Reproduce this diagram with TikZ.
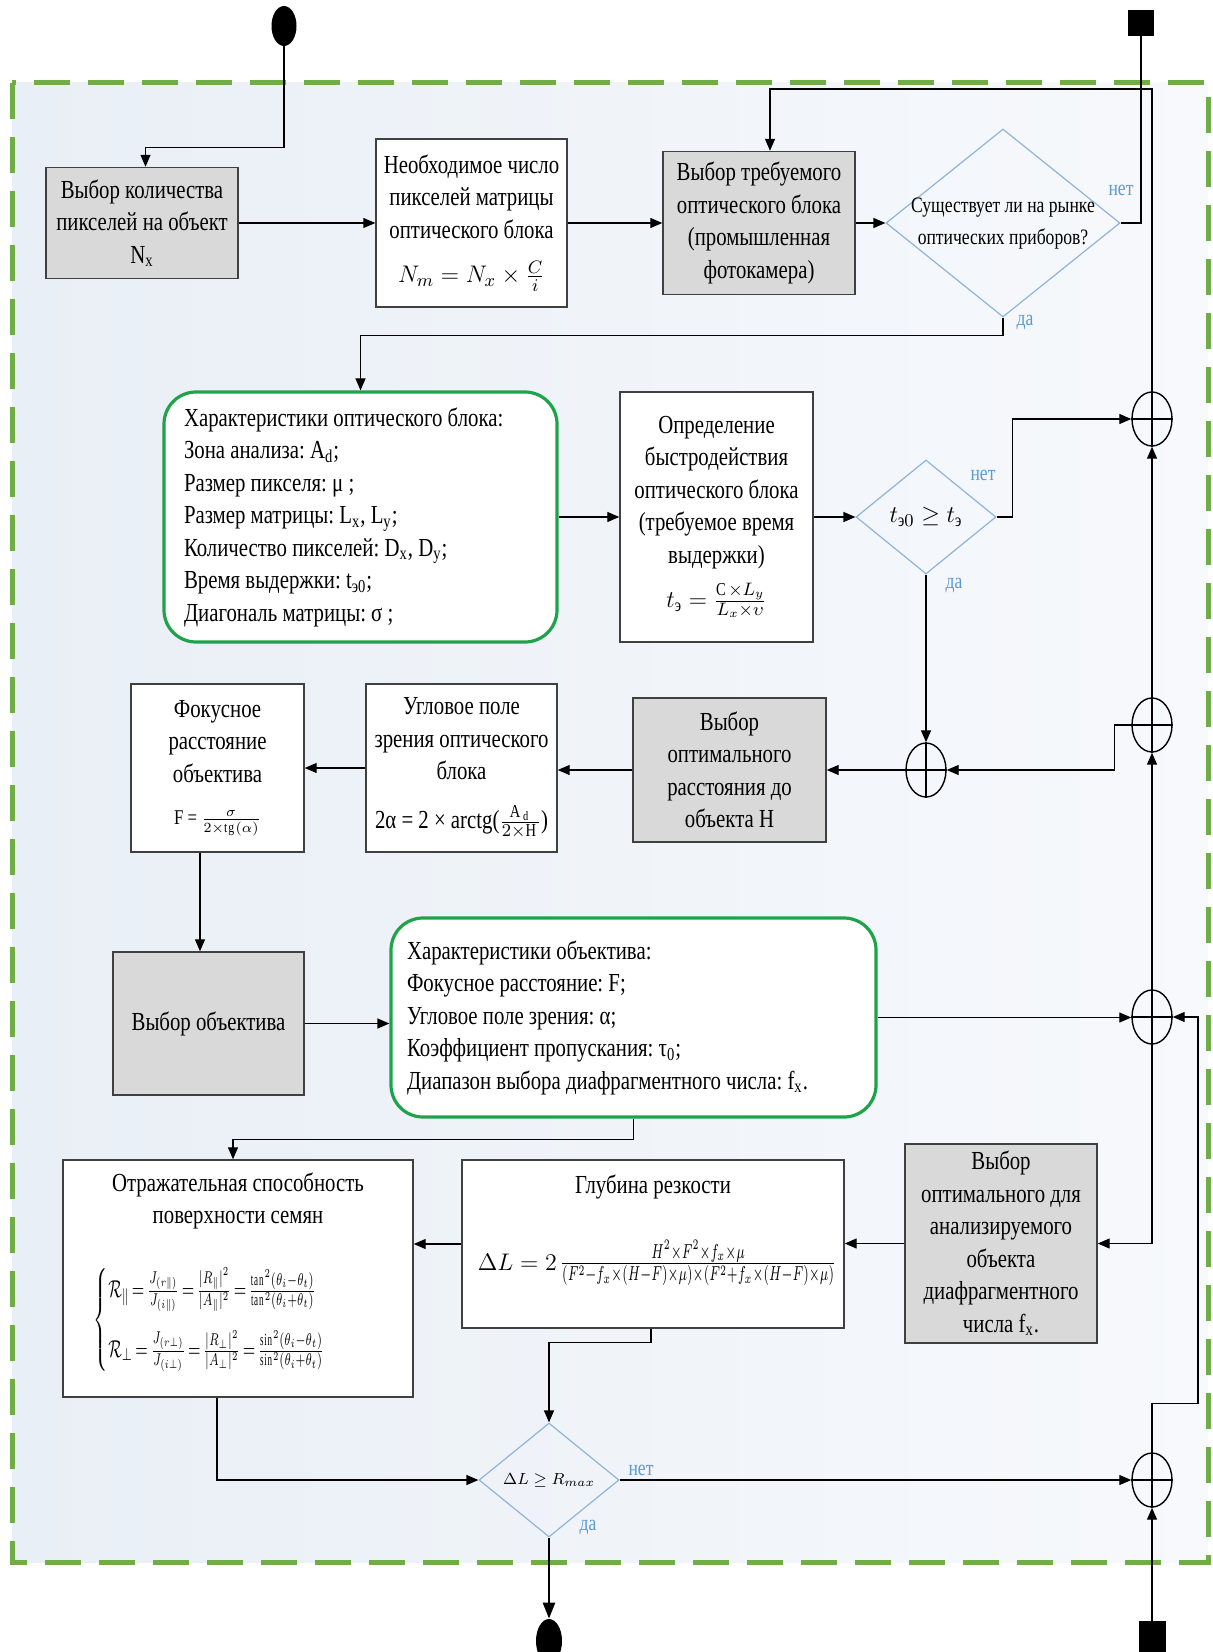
\documentclass[tikz,border=0pt]{standalone}
\usepackage{fontspec}
\setmainfont{Liberation Serif}[FakeStretch=0.8]
\usepackage{amsmath}
\usepackage{graphicx}
\usetikzlibrary{shapes.geometric,arrows.meta,calc}
\definecolor{frameG}{HTML}{70AD47}
\definecolor{grnline}{HTML}{1FA34A}
\definecolor{diaB}{HTML}{8FB4D9}
\definecolor{lblB}{HTML}{5B9BD5}
\definecolor{grayfill}{HTML}{D9D9D9}
\definecolor{boxline}{HTML}{404040}
\definecolor{bgA}{HTML}{E9EFF6}
\definecolor{bgB}{HTML}{F7F9FC}
\newcommand\msz{\fontsize{13}{16.25}\selectfont}
\newcommand\ssz{\fontsize{11}{16}\selectfont}
\newcommand\lsz{\fontsize{10.5}{12}\selectfont}
\frenchspacing
\begin{document}
\frenchspacing
\begin{tikzpicture}[x=0.5pt,y=-0.5pt,
  box/.style={draw=boxline, line width=0.7pt, fill=white, inner sep=1pt, align=center, font=\msz},
  gbox/.style={box, fill=grayfill},
  grn/.style={draw=grnline, line width=1.6pt, rounded corners=16pt, fill=white, align=flush left, inner ysep=0pt},
  dia/.style={diamond, draw=diaB, line width=0.6pt, inner sep=0pt},
  junc/.style={ellipse, draw, line width=0.7pt, minimum width=20pt, minimum height=27pt, inner sep=0pt},
  arr/.style={-{Triangle[length=6pt,width=5pt]}, line width=0.6pt},
  ln/.style={line width=0.6pt},
  yn/.style={text=lblB, font=\ssz, inner sep=0pt}]
\useasboundingbox (0,0) rectangle (1213,1652);
\clip (0,0) rectangle (1213,1652);
\fill[white] (0,0) rectangle (1213,1652);
\shade[left color=bgA, right color=bgB] (12,83) rectangle (1208,1562);
\draw[frameG, line width=2.5pt, dash pattern=on 18pt off 9pt] (12,83) rectangle (1208,1562);

% terminals
\node[ellipse, fill=black, minimum width=12.5pt, minimum height=20pt, inner sep=0pt] (S) at (284,26) {};
\node[fill=black, minimum width=13pt, minimum height=13pt, inner sep=0pt] (Q1) at (1141,23) {};
\node[ellipse, fill=black, minimum width=13pt, minimum height=22pt, inner sep=0pt] (E) at (549,1641) {};
\node[fill=black, minimum width=13.5pt, minimum height=20pt, inner sep=0pt] (Q2) at (1152,1641) {};

% row 1
\node[gbox, minimum width=96pt, minimum height=55.5pt] (B1) at (142,223) {Выбор количества\\пикселей на объект\\N\textsubscript{x}};
\node[box, minimum width=95.5pt, minimum height=84pt] (B2) at (471.5,223) {Необходимое число\\пикселей матрицы\\оптического блока\\[6pt]$N_m = N_x\times\frac{C}{i}$};
\node[gbox, minimum width=96pt, minimum height=71.5pt] (B3) at (759,223) {Выбор требуемого\\оптического блока\\(промышленная\\фотокамера)};
\node[dia, minimum width=117pt, minimum height=94pt] (D1) at (1003,223) {};
\node[font=\ssz, align=center, inner sep=0pt] (D1t) at (1003,224) {Существует ли на рынке\\оптических приборов?};
\node[yn] (D1n) at (1121,190) {нет};
\node[yn] (D1y) at (1025,322) {да};

% row 2
\node[grn, text width=176.5pt, inner xsep=10pt, minimum height=125pt, font=\msz] (G1) at (360.5,517) {Характеристики оптического блока:\\Зона анализа: A\textsubscript{d};\\Размер пикселя: μ ;\\Размер матрицы: L\textsubscript{x}, L\textsubscript{y};\\Количество пикселей: D\textsubscript{x}, D\textsubscript{y};\\Время выдержки: t\textsubscript{э0};\\Диагональ матрицы: σ ;};
\node[box, minimum width=96.5pt, minimum height=125pt] (B5) at (716.5,517) {Определение\\быстродействия\\оптического блока\\(требуемое время\\выдержки)\\[6pt]$t_{\text{э}}=\frac{\mathrm{C}\times L_y}{L_x\times\upsilon}$};
\node[dia, minimum width=70pt, minimum height=57pt, font=\msz] (D2) at (926,517) {$t_{\text{э}0}\ge t_{\text{э}}$};
\node[yn] (D2n) at (983,475) {нет};
\node[yn] (D2y) at (954,585) {да};

% junctions
\node[junc] (J1) at (1152,419) {};
\node[junc] (J2) at (1152,725) {};
\node[junc] (J3) at (1152,1017) {};
\node[junc] (J4) at (1152,1480) {};
\node[junc] (J5) at (926,770) {};
\foreach \j in {J1,J2,J3,J4,J5}{\draw[ln] (\j.north) -- (\j.south) (\j.west) -- (\j.east);}

% row 3
\node[gbox, minimum width=96.5pt, minimum height=72pt] (B7) at (729.5,770) {Выбор\\оптимального\\расстояния до\\объекта H};
\node[box, minimum width=95.5pt, minimum height=84pt] (B6) at (461.5,768) {Угловое поле\\зрения оптического\\блока\\[8pt]2α = 2 × arctg($\frac{\mathrm{A_d}}{2\times\mathrm{H}}$)};
\node[box, minimum width=86.5pt, minimum height=84pt] (BF) at (217.5,768) {Фокусное\\расстояние\\объектива\\[5pt]{\lsz F = $\frac{\sigma}{2\times\mathrm{tg}(\alpha)}$}};

% row 4
\node[gbox, minimum width=95.5pt, minimum height=71.5pt] (B8) at (208.5,1023.5) {Выбор объектива};
\node[grn, text width=226.5pt, inner xsep=8pt, minimum height=99.5pt, font=\msz] (G2) at (633.5,1017.5) {Характеристики объектива:\\Фокусное расстояние: F;\\Угловое поле зрения: α;\\Коэффициент пропускания: τ\textsubscript{0};\\Диапазон выбора диафрагментного числа: f\textsubscript{x}.};

% row 5
\node[box, minimum width=191pt, minimum height=84pt] (B9) at (653,1244) {};
\node[font=\msz, inner sep=0pt] (B9t) at (653,1187) {Глубина резкости};
\node[inner sep=0pt] (B9f) at (657,1263) {{\fontsize{13}{16}\selectfont$\Delta L = 2$}\,\resizebox*{138pt}{23pt}{$\frac{H^2\times F^2\times f_x\times\mu}{(F^2-f_x\times(H-F)\times\mu)\times(F^2+f_x\times(H-F)\times\mu)}$}};
\node[box, minimum width=175pt, minimum height=118.5pt] (B10) at (238,1278.5) {};
\node[font=\msz, align=center, inner sep=0pt] (B10t) at (238,1201) {Отражательная способность\\поверхности семян};
\node[inner sep=0pt] (B10f) at (210,1320) {\resizebox*{116pt}{52pt}{\thickmuskip=3mu$\left\{\begin{array}{@{}l@{}}\mathcal{R}_{\parallel}=\frac{J_{(r\parallel)}}{J_{(i\parallel)}}=\frac{|R_{\parallel}|^2}{|A_{\parallel}|^2}=\frac{\tan^2(\theta_i-\theta_t)}{\tan^2(\theta_i+\theta_t)}\\[10pt] \mathcal{R}_{\perp}=\frac{J_{(r\perp)}}{J_{(i\perp)}}=\frac{|R_{\perp}|^2}{|A_{\perp}|^2}=\frac{\sin^2(\theta_i-\theta_t)}{\sin^2(\theta_i+\theta_t)}\end{array}\right.$}};
\node[gbox, minimum width=96pt, minimum height=99.5pt] (B11) at (1001,1243.5) {Выбор\\оптимального для\\анализируемого\\объекта\\диафрагментного\\числа f\textsubscript{x}.};

% row 6
\node[dia, minimum width=70pt, minimum height=57pt, font=\fontsize{8.5}{10}\selectfont] (D3) at (549,1480) {$\Delta L\ge R_{max}$};
\node[yn] (D3n) at (641,1470) {нет};
\node[yn] (D3y) at (588,1527) {да};

% connectors
\draw[arr] (S.south) -- ++(0,101) -| ([xshift=1.75pt]B1.north);
\draw[arr] (B1.east) -- (B2.west);
\draw[arr] (B2.east) -- (B3.west);
\draw[arr] (B3.east) -- (D1.west);
\draw[ln] (D1.east) -| (Q1.south);
\draw[arr] (D1.south) -- ++(0,18) -| (G1.north);
\draw[arr] (G1.east) -- (B5.west);
\draw[arr] (B5.east) -- (D2.west);
\draw[arr] (D2.east) -- ++(16,0) |- (J1.west);
\draw[arr] (D2.south) -- (J5.north);
\draw[arr] (J5.west) -- (B7.east);
\draw[arr] (B7.west) -- (B7.west -| B6.east);
\draw[arr] (B6.west) -- (B6.west -| BF.east);
\draw[arr] ([xshift=-8.75pt]BF.south) -- ([xshift=-8.75pt]BF.south |- B8.north);
\draw[arr] (B8.east) -- (B8.east -| G2.west);
\draw[arr] (G2.east) -- (G2.east -| J3.west);
\draw[arr] (G2.south) -- ++(0,21) -| ([xshift=-2.5pt]B10.north);
\draw[arr] (J3.south) |- (B11.east);
\draw[arr] (B11.west) -- (B11.west -| B9.east);
\draw[arr] (B9.west) -- (B9.west -| B10.east);
\draw[arr] ([xshift=-1pt]B9.south) -- ++(0,14) -| (D3.north);
\draw[arr] ([xshift=-10.5pt]B10.south) |- (D3.west);
\draw[arr] (D3.east) -- (J4.west);
\draw[-{Triangle[length=8pt,width=6pt]}, line width=1.3pt] (D3.south) -- (E.north);
\draw[arr] (Q2.north) -- (J4.south);
\draw[arr] (J4.north) -- ++(0,-49) -- ++(46,0) |- (J3.east);
\draw[arr] (J3.north) -- (J2.south);
\draw[arr] (J2.west) -- ++(-17,0) |- (J5.east);
\draw[arr] (J2.north) -- (J1.south);
\coordinate (BT) at (1152,89);
\draw[arr] (J1.north) -- (BT) -| ([xshift=5.5pt]B3.north);
\end{tikzpicture}
\end{document}
